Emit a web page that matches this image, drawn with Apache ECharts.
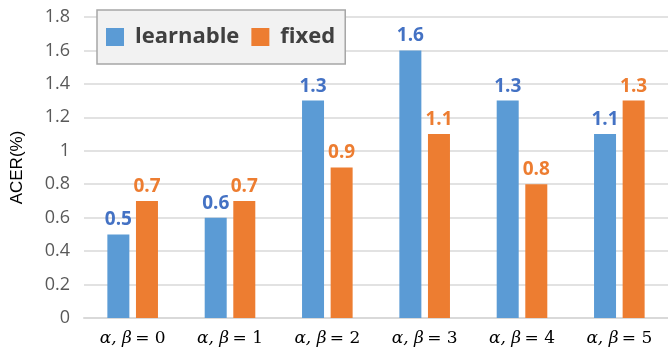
<!DOCTYPE html>
<html><head><meta charset="utf-8">
<script src="https://cdn.jsdelivr.net/npm/echarts@6/dist/echarts.min.js"></script>
<style>html,body{margin:0;padding:0;background:#fff}#c{width:668px;height:354px}</style>
</head><body><div id="c"></div>
<script>
const categories = ['0', '1', '2', '3', '4', '5'];
const learnable = [0.5, 0.6, 1.3, 1.6, 1.3, 1.1];
const fixed = [0.7, 0.7, 0.9, 1.1, 0.8, 1.3];
const yTicks = [0, 0.2, 0.4, 0.6, 0.8, 1, 1.2, 1.4, 1.6, 1.8];

const chart = echarts.init(document.getElementById('c'));
chart.setOption({
  animation: false,
  grid: {left: 84, right: 0, top: 17, bottom: 36},
  legend: {
    left: 97, top: 10,
    padding: [16, 10, 16, 9],
    backgroundColor: '#f2f2f2',
    borderColor: '#a6a6a6', borderWidth: 1.5,
    icon: 'rect',
    itemWidth: 18, itemHeight: 18, itemGap: 12,
    textStyle: {fontSize: 22, fontWeight: 'bold', color: '#404040', fontFamily: 'Open Sans', padding: [0, 0, 0, 6]},
    data: ['learnable', 'fixed']
  },
  xAxis: {
    type: 'category', data: categories,
    axisLine: {lineStyle: {color: '#d9d9d9', width: 2}},
    axisTick: {show: false},
    axisLabel: {
      margin: 12,
      formatter: v => '{i|α, β} {n|= ' + v + '}',
      rich: {
        i: {fontFamily: 'DejaVu Serif', fontStyle: 'italic', fontSize: 17, color: '#000'},
        n: {fontFamily: 'DejaVu Serif', fontSize: 17, color: '#000'}
      }
    }
  },
  yAxis: {
    type: 'value', min: 0, max: 1.8, interval: 0.2,
    name: 'ACER(%)', nameLocation: 'middle', nameGap: 58, nameRotate: 90,
    nameTextStyle: {fontSize: 17, color: '#000', fontFamily: 'Liberation Sans'},
    axisLine: {show: false}, axisTick: {show: false},
    axisLabel: {fontSize: 18, color: '#595959', margin: 14, fontFamily: 'Open Sans',
      formatter: v => { const t = yTicks.find(x => Math.abs(x - v) < 1e-9); return String(t !== undefined ? t : v); }},
    splitLine: {lineStyle: {color: '#d9d9d9', width: 1.5}}
  },
  series: [
    {name: 'learnable', type: 'bar', data: learnable, barWidth: 22, barGap: '30%',
      itemStyle: {color: '#5b9bd5'},
      label: {show: true, position: 'top', distance: 5, fontSize: 19, fontWeight: 'bold', color: '#4472c4', fontFamily: 'Open Sans'}},
    {name: 'fixed', type: 'bar', data: fixed, barWidth: 22,
      itemStyle: {color: '#ed7d31'},
      label: {show: true, position: 'top', distance: 5, fontSize: 19, fontWeight: 'bold', color: '#ed7d31', fontFamily: 'Open Sans'}}
  ]
});
</script></body></html>
